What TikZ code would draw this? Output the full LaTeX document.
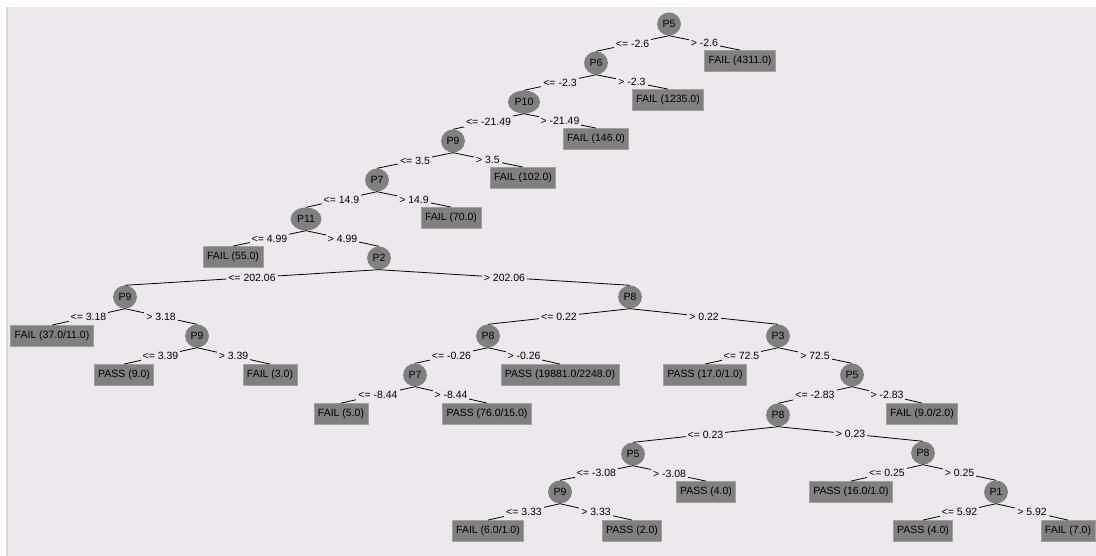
\documentclass[tikz,border=0pt]{standalone}
\usepackage{fontspec}
\setmainfont{Liberation Sans}
\usepackage{xcolor}
\usepackage{tikz}
\usetikzlibrary{shapes.geometric}

\definecolor{panel}{RGB}{235,233,238}
\definecolor{nodegray}{RGB}{128,128,128}
\definecolor{rimgray}{RGB}{160,160,160}

\begin{document}
\begin{tikzpicture}[
  x=1pt, y=-1pt,
  font=\fontsize{10.5}{12}\selectfont,
  attr/.style={ellipse, fill=nodegray, minimum width=23pt, minimum height=23pt,
               inner xsep=2pt, inner ysep=1pt},
  leaf/.style={rectangle, fill=nodegray, draw=rimgray, line width=0.8pt,
               minimum height=21pt, inner xsep=4pt},
  edge/.style={line width=0.8pt},
  cond/.style={fill=panel, inner sep=2pt}
]
% Background panel
\useasboundingbox (0,0) rectangle (1096,556);
\fill[white] (0,0) rectangle (1096,556);
\fill[panel] (6,7) rectangle (1096,556);
\fill[rimgray!40] (6,7) rectangle (8,556);

% Upper chain
\node[attr] (p5a) at (669,24) {P5};
\node[leaf] (f4311) at (740,61) {FAIL (4311.0)};
\node[attr] (p6) at (596,63) {P6};
\node[leaf] (f1235) at (668,100) {FAIL (1235.0)};
\node[attr] (p10) at (524,102) {P10};
\node[leaf] (f146) at (596,139) {FAIL (146.0)};
\node[attr] (p9a) at (453,141) {P9};
\node[leaf] (f102) at (523,178) {FAIL (102.0)};
\node[attr] (p7a) at (377,180) {P7};
\node[leaf] (f70) at (451,218) {FAIL (70.0)};
\node[attr] (p11) at (306,219) {P11};
\node[leaf] (f55) at (233,257) {FAIL (55.0)};
\node[attr] (p2) at (379,258) {P2};

% Left subtree of P2
\node[attr] (p9b) at (125,297) {P9};
\node[leaf] (f37) at (52,336) {FAIL (37.0/11.0)};
\node[attr] (p9c) at (197,336) {P9};
\node[leaf] (pass9) at (124,375) {PASS (9.0)};
\node[leaf] (f3) at (270,375) {FAIL (3.0)};

% Right subtree of P2
\node[attr] (p8a) at (630,297) {P8};
\node[attr] (p8b) at (488,336) {P8};
\node[attr] (p7b) at (415,375) {P7};
\node[leaf] (pass19881) at (560,375) {PASS (19881.0/2248.0)};
\node[leaf] (f5) at (341,414) {FAIL (5.0)};
\node[leaf] (pass76) at (487,414) {PASS (76.0/15.0)};

\node[attr] (p3) at (778,336) {P3};
\node[leaf] (pass17) at (705,375) {PASS (17.0/1.0)};
\node[attr] (p5b) at (852,375) {P5};
\node[leaf] (f9) at (922,414) {FAIL (9.0/2.0)};
\node[attr] (p8c) at (778,415) {P8};

\node[attr] (p5c) at (633,454) {P5};
\node[leaf] (pass4a) at (706,492) {PASS (4.0)};
\node[attr] (p9d) at (560,492) {P9};
\node[leaf] (f6) at (488,531) {FAIL (6.0/1.0)};
\node[leaf] (pass2) at (632,531) {PASS (2.0)};

\node[attr] (p8d) at (923,453) {P8};
\node[leaf] (pass16) at (851,492) {PASS (16.0/1.0)};
\node[attr] (p1) at (996,492) {P1};
\node[leaf] (pass4b) at (923,531) {PASS (4.0)};
\node[leaf] (f7) at (1068,531) {FAIL (7.0)};

% Branches
\draw[edge] (p5a.south) -- (p6.north) node[midway, cond] {<= -2.6};
\draw[edge] (p5a.south) -- (f4311.north) node[midway, cond] {> -2.6};
\draw[edge] (p6.south) -- (p10.north) node[midway, cond] {<= -2.3};
\draw[edge] (p6.south) -- (f1235.north) node[midway, cond] {> -2.3};
\draw[edge] (p10.south) -- (p9a.north) node[midway, cond] {<= -21.49};
\draw[edge] (p10.south) -- (f146.north) node[midway, cond] {> -21.49};
\draw[edge] (p9a.south) -- (p7a.north) node[midway, cond] {<= 3.5};
\draw[edge] (p9a.south) -- (f102.north) node[midway, cond] {> 3.5};
\draw[edge] (p7a.south) -- (p11.north) node[midway, cond] {<= 14.9};
\draw[edge] (p7a.south) -- (f70.north) node[midway, cond] {> 14.9};
\draw[edge] (p11.south) -- (f55.north) node[midway, cond] {<= 4.99};
\draw[edge] (p11.south) -- (p2.north) node[midway, cond] {> 4.99};
\draw[edge] (p2.south) -- (p9b.north) node[midway, cond] {<= 202.06};
\draw[edge] (p2.south) -- (p8a.north) node[midway, cond] {> 202.06};

\draw[edge] (p9b.south) -- (f37.north) node[midway, cond] {<= 3.18};
\draw[edge] (p9b.south) -- (p9c.north) node[midway, cond] {> 3.18};
\draw[edge] (p9c.south) -- (pass9.north) node[midway, cond] {<= 3.39};
\draw[edge] (p9c.south) -- (f3.north) node[midway, cond] {> 3.39};

\draw[edge] (p8a.south) -- (p8b.north) node[midway, cond] {<= 0.22};
\draw[edge] (p8a.south) -- (p3.north) node[midway, cond] {> 0.22};
\draw[edge] (p8b.south) -- (p7b.north) node[midway, cond] {<= -0.26};
\draw[edge] (p8b.south) -- (pass19881.north) node[midway, cond] {> -0.26};
\draw[edge] (p7b.south) -- (f5.north) node[midway, cond] {<= -8.44};
\draw[edge] (p7b.south) -- (pass76.north) node[midway, cond] {> -8.44};

\draw[edge] (p3.south) -- (pass17.north) node[midway, cond] {<= 72.5};
\draw[edge] (p3.south) -- (p5b.north) node[midway, cond] {> 72.5};
\draw[edge] (p5b.south) -- (p8c.north) node[midway, cond] {<= -2.83};
\draw[edge] (p5b.south) -- (f9.north) node[midway, cond] {> -2.83};
\draw[edge] (p8c.south) -- (p5c.north) node[midway, cond] {<= 0.23};
\draw[edge] (p8c.south) -- (p8d.north) node[midway, cond] {> 0.23};
\draw[edge] (p5c.south) -- (p9d.north) node[midway, cond] {<= -3.08};
\draw[edge] (p5c.south) -- (pass4a.north) node[midway, cond] {> -3.08};
\draw[edge] (p9d.south) -- (f6.north) node[midway, cond] {<= 3.33};
\draw[edge] (p9d.south) -- (pass2.north) node[midway, cond] {> 3.33};
\draw[edge] (p8d.south) -- (pass16.north) node[midway, cond] {<= 0.25};
\draw[edge] (p8d.south) -- (p1.north) node[midway, cond] {> 0.25};
\draw[edge] (p1.south) -- (pass4b.north) node[midway, cond] {<= 5.92};
\draw[edge] (p1.south) -- (f7.north) node[midway, cond] {> 5.92};
\end{tikzpicture}
\end{document}
